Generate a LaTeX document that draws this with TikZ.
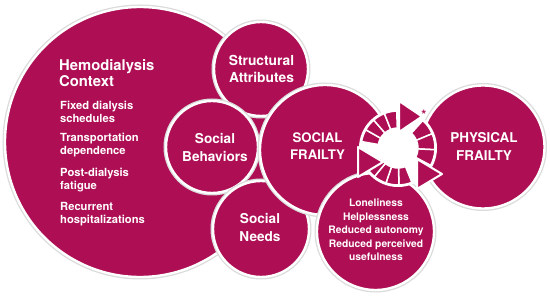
\documentclass[tikz,border=0pt]{standalone}
\usepackage{fontspec}
\setmainfont{TeX Gyre Heros}
\usetikzlibrary{calc}
\definecolor{mag}{RGB}{174,14,84}
\begin{document}
\begin{tikzpicture}[x=1pt,y=1pt,
  bub/.style={circle, fill=mag, draw=white, line width=2.4pt, inner sep=0pt, outer sep=0pt,
    preaction={draw=black!14, line width=5pt}},
  seg/.style={fill=mag, draw=white, line width=1.5pt, line join=round},
  tri/.style={fill=mag, draw=white, line width=2pt, line join=round},
  lbl/.style={text=white, align=center, inner sep=0pt},
  fa/.style={font=\bfseries\fontsize{#1}{#1}\selectfont},
]
\useasboundingbox (0,0) rectangle (550,297);
% circles
\node[bub, minimum size=270pt] (big) at (140,155) {};
\node[bub, minimum size=94pt] (struct) at (261,228) {};
\node[bub, minimum size=92pt] (behav) at (212,150) {};
\node[bub, minimum size=96pt] (needs) at (261,68) {};
\node[bub, minimum size=130pt] (sfrail) at (325,147) {};
\node[bub, minimum size=123pt] (phys) at (483,150) {};
\node[bub, minimum size=117pt] (lone) at (375.5,65.5) {};
% cycle ring
\coordinate (rc) at (398,149);
\fill[white] (rc) circle[radius=39];
\foreach \s/\e in {170/150.5, 150.5/131, 131/111.5, 111.5/92,
                   48/22.67, 22.67/-2.67, -2.67/-28,
                   -68/-88.5, -88.5/-109, -109/-129.5, -129.5/-150}{
  \draw[seg] ([shift={(rc)}]\s:20) arc[start angle=\s, end angle=\e, radius=20]
     -- ([shift={(rc)}]\e:37) arc[start angle=\e, end angle=\s, radius=37] -- cycle;
}
\draw[tri] (399,165) -- (399,196) -- (422,180.5) -- cycle;
\draw[tri] (417,108) -- (417,138) -- (442,123) -- cycle;
\draw[tri] (358,120) -- (358,150) -- (383,135) -- cycle;
\node[text=mag, fa=13, inner sep=0pt] (ast) at (424,182.5) {*};
% texts
\node[lbl, anchor=west, align=left, font=\bfseries\fontsize{14.8}{16}\selectfont] (t0) at (59,224) {Hemodialysis\\Context};
\node[lbl, anchor=west, align=left, font=\bfseries\fontsize{11.2}{13}\selectfont] (t1) at (60,185.5) {Fixed dialysis\\schedules};
\node[lbl, anchor=west, align=left, font=\bfseries\fontsize{11.2}{13}\selectfont] (t2) at (60,151.5) {Transportation\\dependence};
\node[lbl, anchor=west, align=left, font=\bfseries\fontsize{11.2}{13}\selectfont] (t3) at (60,116.5) {Post-dialysis\\fatigue};
\node[lbl, anchor=west, align=left, font=\bfseries\fontsize{11.2}{13}\selectfont] (t4) at (60,82.5) {Recurrent\\hospitalizations};
\node[lbl, font=\bfseries\fontsize{13.8}{17}\selectfont] (tstruct) at (261.5,228.5) {Structural\\Attributes};
\node[lbl, font=\bfseries\fontsize{13.6}{18}\selectfont] (tbehav) at (215,150) {Social\\Behaviors};
\node[lbl, font=\bfseries\fontsize{13.6}{18}\selectfont] (tneeds) at (260,70) {Social\\Needs};
\node[lbl, font=\bfseries\fontsize{13.2}{17}\selectfont] (tsf) at (317.5,150.5) {SOCIAL\\FRAILTY};
\node[lbl, font=\bfseries\fontsize{13.5}{17.5}\selectfont] (tpf) at (484,150.5) {PHYSICAL\\FRAILTY};
\node[lbl, font=\bfseries\fontsize{10.3}{13.4}\selectfont] (tlone) at (376,67) {Loneliness\\Helplessness\\Reduced autonomy\\Reduced perceived\\usefulness};
\end{tikzpicture}
\end{document}
